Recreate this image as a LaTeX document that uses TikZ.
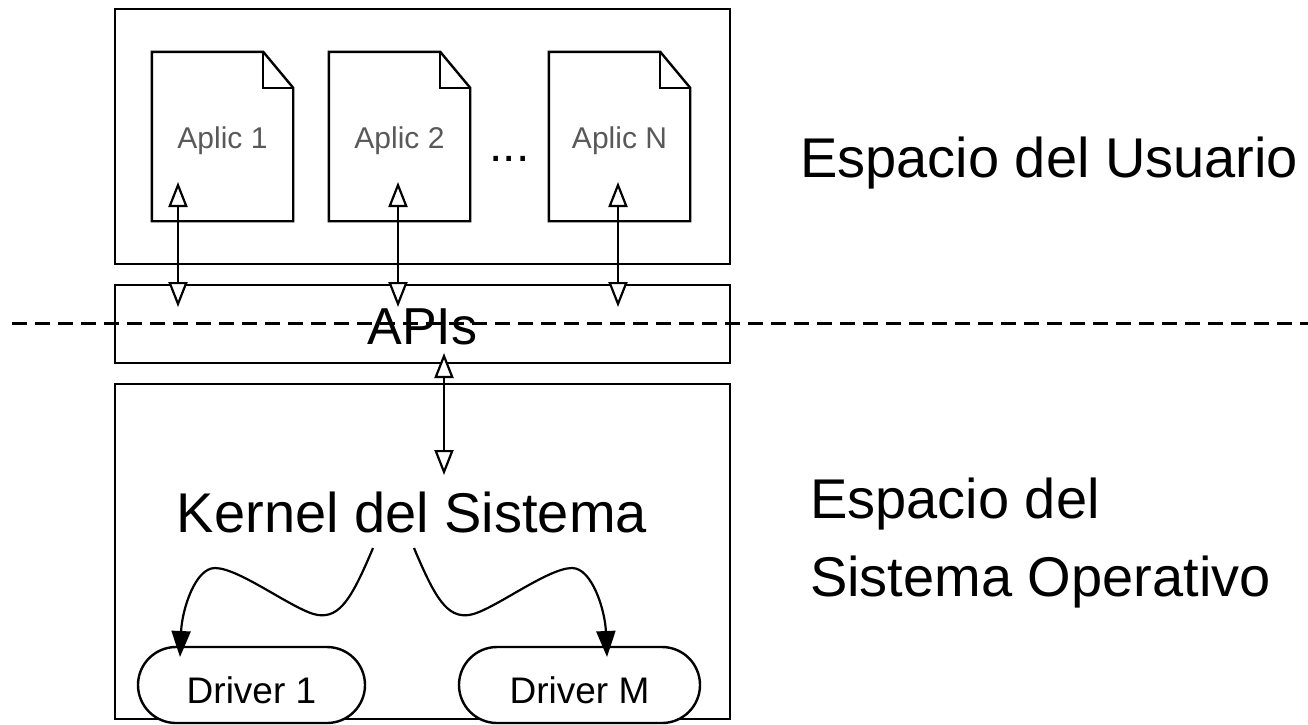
\documentclass[tikz,border=0pt]{standalone}
\usepackage{fontspec}
\setmainfont{Liberation Sans}
\usetikzlibrary{arrows.meta}

\tikzset{
  boxline/.style={draw, line width=2.4pt},
  layer/.style={boxline, rectangle, inner sep=0pt, minimum width=615pt},
  docnode/.style={rectangle, inner sep=0pt, minimum width=141pt, minimum height=169pt,
    font=\fontsize{30}{36}\selectfont, text=black!65, text height=23pt, text depth=0pt},
  bigtext/.style={font=\fontsize{56}{60}\selectfont, inner sep=0pt},
  drivernode/.style={boxline, fill=white, rectangle, rounded corners=38pt, minimum height=76pt,
    inner sep=0pt, font=\fontsize{37}{40}\selectfont, text height=36pt, text depth=0pt},
  dblarrow/.style={line width=2.2pt,
    {Triangle[length=25pt,width=19pt,fill=white]}-{Triangle[length=25pt,width=19pt,fill=white]}},
  callarrow/.style={line width=2.2pt, -{Triangle[length=26pt,width=19pt]}},
  sepline/.style={line width=3pt, dash pattern=on 15pt off 8pt},
}

\begin{document}
\begin{tikzpicture}[x=1pt,y=-1pt]
\useasboundingbox (0,0) rectangle (1308,724);

% user / kernel separation
\coordinate (sepL) at (12,323);
\coordinate (sepR) at (1308,323);
\draw[sepline] (sepL) -- (sepR);

% layers
\node[layer, minimum height=255pt] (user) at (422.5,136.5) {};
\node[layer, minimum height=78pt, font=\fontsize{52}{56}\selectfont,
      text height=40pt, text depth=0pt] (apis) at (422.5,324) {APIs};
\node[layer, minimum height=335pt] (kernel) at (422.5,551.5) {};
\node[bigtext, anchor=base] (kernellbl) at (412,532) {Kernel del Sistema};

% applications
\node[docnode] (app1) at (222.5,136.5) {Aplic 1};
\node[docnode] (app2) at (399.5,136.5) {Aplic 2};
\node[docnode] (appN) at (619.5,136.5) {Aplic N};
\foreach \n in {app1,app2,appN}{
  \draw[boxline] (\n.south west) -- (\n.north west) -- ([xshift=-30pt]\n.north east)
    -- ([yshift=-36pt]\n.north east) -- (\n.south east) -- cycle;
  \draw[boxline] ([xshift=-30pt]\n.north east) |- ([yshift=-36pt]\n.north east);
}
\node[font=\fontsize{48}{50}\selectfont, anchor=base, inner sep=0pt] (dots) at (509.5,161) {...};

% drivers
\node[drivernode, minimum width=227pt] (drv1) at (251.5,685) {Driver 1};
\node[drivernode, minimum width=241pt] (drvM) at (579.5,685) {Driver M};

% space labels
\node[bigtext, anchor=base west] (usr) at (800,177) {Espacio del Usuario};
\node[bigtext, anchor=base west] (os1) at (810,518) {Espacio del};
\node[bigtext, anchor=base west] (os2) at (810,596) {Sistema Operativo};

% application <-> API calls
\coordinate (a1u) at (178,182); \coordinate (a1d) at (178,307);
\coordinate (a2u) at (398,182); \coordinate (a2d) at (398,307);
\coordinate (aNu) at (618,182); \coordinate (aNd) at (618,307);
\coordinate (ku) at (444,353);  \coordinate (kd) at (444,475);
\draw[dblarrow] (a1u) -- (a1d);
\draw[dblarrow] (a2u) -- (a2d);
\draw[dblarrow] (aNu) -- (aNd);
\draw[dblarrow] (ku) -- (kd);

% kernel -> drivers
\coordinate (k1s) at (373,548); \coordinate (d1in) at (180,657);
\coordinate (k2s) at (414,548); \coordinate (dMin) at (607,657);
\draw[callarrow] (k1s) .. controls (352,598) and (340,618) .. (318,615)
  .. controls (296,612) and (240,568) .. (215,568)
  .. controls (195,568) and (182,610) .. (d1in);
\draw[callarrow] (k2s) .. controls (435,598) and (447,618) .. (469,615)
  .. controls (491,612) and (547,568) .. (572,568)
  .. controls (592,568) and (605,610) .. (dMin);
\end{tikzpicture}
\end{document}
